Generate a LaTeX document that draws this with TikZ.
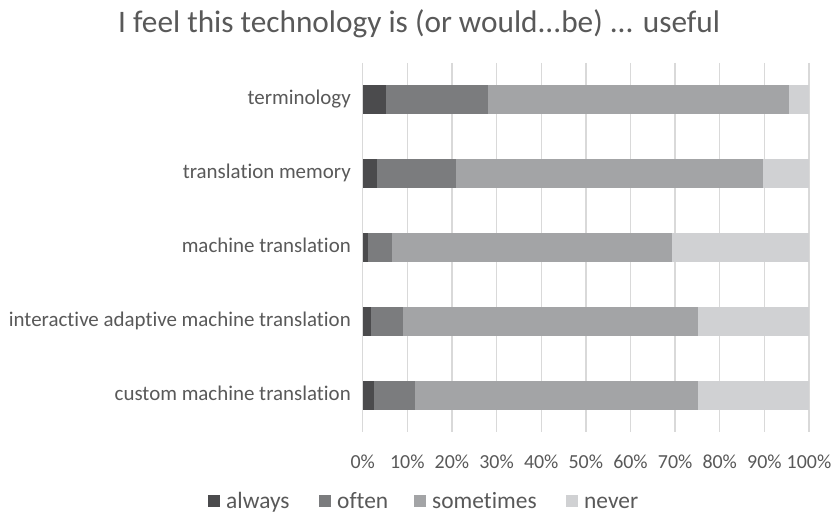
\documentclass[tikz,border=0pt]{standalone}
\usepackage{fontspec}
\setmainfont{Carlito}[Ligatures=NoCommon]
\definecolor{txt}{HTML}{595959}
\definecolor{gridc}{HTML}{D9D9D9}
\definecolor{cAlways}{HTML}{4B4B4D}
\definecolor{cOften}{HTML}{7B7C7E}
\definecolor{cSome}{HTML}{A3A4A6}
\definecolor{cNever}{HTML}{D0D1D3}
\tikzset{
  catlabel/.style={anchor=base east, text=txt, font=\fontsize{21}{25}\selectfont, inner sep=0pt},
  ticklabel/.style={anchor=base, text=txt, font=\fontsize{20}{24}\selectfont, inner sep=0pt},
  legtext/.style={anchor=base west, text=txt, font=\fontsize{23.5}{28}\selectfont, inner sep=0pt},
  legbox/.style={minimum size=12.5bp, inner sep=0pt, draw=none},
  gridline/.style={draw=gridc, line width=1.3bp},
}
% x position (in px) of a percentage value
\newcommand{\px}[1]{362.7+4.463*#1}
% one stacked bar: centre y, then cumulative ends of always, often, sometimes
\newcommand{\stackbar}[4]{%
  \fill[cAlways] (\px{0},#1-14.5) rectangle (\px{#2},#1+14.5);
  \fill[cOften] (\px{#2},#1-14.5) rectangle (\px{#3},#1+14.5);
  \fill[cSome] (\px{#3},#1-14.5) rectangle (\px{#4},#1+14.5);
  \fill[cNever] (\px{#4},#1-14.5) rectangle (\px{100},#1+14.5);
}
\begin{document}
\begin{tikzpicture}[x=1bp,y=-1bp]
\useasboundingbox[fill=white] (0,0) rectangle (835,513);

% title
\node[anchor=base west, text=txt, font=\fontsize{31.4}{36}\selectfont, inner sep=0pt] (title) at (118,32.3) {I feel this technology is (or would...be) ... useful};

% vertical grid lines with tick labels
\foreach \i in {0,...,10} {
  \draw[gridline] ({\px{10*\i}},63) -- ({\px{10*\i}},432);
  \pgfmathtruncatemacro{\pc}{10*\i}
  \node[ticklabel] (tick\i) at ({\px{10*\i}},468) {\pc\%};
}

% bars
\stackbar{99.7}{5.2}{28.0}{95.5}
\stackbar{173.7}{3.1}{20.9}{89.6}
\stackbar{247.8}{1.1}{6.6}{69.4}
\stackbar{321.8}{1.9}{9.0}{75.2}
\stackbar{395.5}{2.5}{11.7}{75.2}

% category labels
\node[catlabel] (c1) at (351,104.6) {terminology};
\node[catlabel] (c2) at (351,178.6) {translation memory};
\node[catlabel] (c3) at (351,252.7) {machine translation};
\node[catlabel] (c4) at (351,326.7) {interactive adaptive machine translation};
\node[catlabel] (c5) at (351,400.4) {custom machine translation};

% legend
\node[legbox, fill=cAlways] (l1) at (214,501) {};
\node[legtext] (t1) at (226,508.5) {always};
\node[legbox, fill=cOften] (l2) at (325,501) {};
\node[legtext] (t2) at (337,508.5) {often};
\node[legbox, fill=cSome] (l3) at (420,501) {};
\node[legtext] (t3) at (432,508.5) {sometimes};
\node[legbox, fill=cNever] (l4) at (572,501) {};
\node[legtext] (t4) at (584,508.5) {never};
\end{tikzpicture}
\end{document}
